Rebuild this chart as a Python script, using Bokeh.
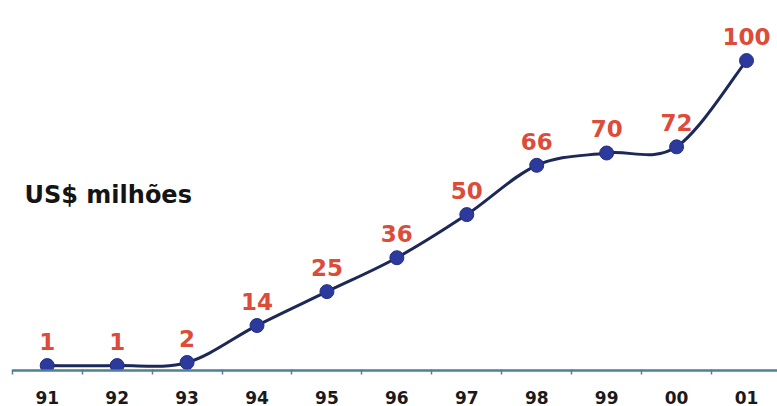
from bokeh.plotting import figure
from bokeh.models import Range1d, LinearAxis, FixedTicker, Label, ColumnDataSource
from bokeh.core.properties import value
from bokeh.embed import file_html
from bokeh.resources import INLINE

# Annual values, US$ millions
years = ["91", "92", "93", "94", "95", "96", "97", "98", "99", "00", "01"]
amounts = [1, 1, 2, 14, 25, 36, 50, 66, 70, 72, 100]

idx = list(range(len(years)))

p = figure(width=777, height=406, output_backend="svg", toolbar_location=None,
           x_axis_type=None, y_axis_type=None,
           x_range=Range1d(-0.668, 10.443), y_range=Range1d(-0.6, 119.5),
           min_border_left=0, min_border_right=0, min_border_top=0, min_border_bottom=36)
p.outline_line_color = None
p.grid.visible = False
p.background_fill_color = "white"
p.border_fill_color = "white"

# Category axis: labels at the centres, small ticks on the boundaries
ax = LinearAxis(ticker=FixedTicker(ticks=idx, minor_ticks=[i - 0.5 for i in idx]),
                major_label_overrides={i: y for i, y in enumerate(years)},
                bounds=(-0.5, 10.45))
ax.axis_line_color = "#4f7f99"
ax.axis_line_width = 2.5
ax.major_tick_line_color = None
ax.major_tick_in = 0
ax.major_tick_out = 0
ax.minor_tick_line_color = "#4f7f99"
ax.minor_tick_line_width = 1.5
ax.minor_tick_in = 1
ax.minor_tick_out = 4
ax.major_label_standoff = 16
ax.major_label_text_font = "DejaVu Sans"
ax.major_label_text_font_style = "bold"
ax.major_label_text_font_size = "17px"
ax.major_label_text_color = "#1a1a1a"
p.add_layout(ax, "below")

# Smoothed line through the points (Catmull-Rom style Bezier segments)
n = len(amounts)
x0, y0, x1, y1, cx0, cy0, cx1, cy1 = ([] for _ in range(8))
for i in range(n - 1):
    a = max(i - 1, 0)
    d = min(i + 2, n - 1)
    x0.append(idx[i]); y0.append(amounts[i])
    x1.append(idx[i + 1]); y1.append(amounts[i + 1])
    cx0.append(idx[i] + (idx[i + 1] - idx[a]) / 6)
    cy0.append(amounts[i] + (amounts[i + 1] - amounts[a]) / 6)
    cx1.append(idx[i + 1] - (idx[d] - idx[i]) / 6)
    cy1.append(amounts[i + 1] - (amounts[d] - amounts[i]) / 6)
p.bezier(x0=x0, y0=y0, x1=x1, y1=y1, cx0=cx0, cy0=cy0, cx1=cx1, cy1=cy1,
         line_color="#1c2858", line_width=3)

src = ColumnDataSource(dict(x=idx, y=amounts, lab=[str(v) for v in amounts]))
p.scatter("x", "y", source=src, size=14, fill_color="#2b3a9c", line_color="#24307f", line_width=1)

p.text("x", "y", text="lab", source=src, text_align="center", text_baseline="alphabetic",
       y_offset=-24, text_font=value("DejaVu Sans"), text_font_style="bold",
       text_font_size="23px", text_color="#dd4b39")

p.add_layout(Label(x=24, y=176, x_units="screen", y_units="screen", text="US$ milhões",
                   text_font="DejaVu Sans", text_font_style="bold", text_font_size="24px",
                   text_color="#141414", text_baseline="alphabetic"))

open("out.html", "w").write(file_html(p, INLINE))
